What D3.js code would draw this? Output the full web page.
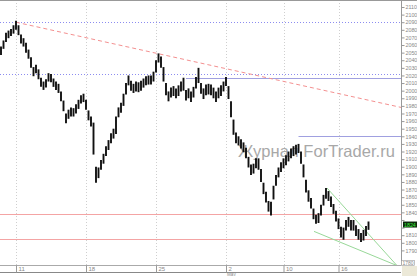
<!DOCTYPE html>
<html>
<head>
<meta charset="utf-8">
<script src="https://d3js.org/d3.v7.min.js"></script>
<style>
  body { margin: 0; background: #fff; }
  svg { display: block; font-family: "Liberation Sans", Arial, sans-serif; }
</style>
</head>
<body>
<svg id="chart" width="417" height="276"></svg>
<script>
// price bars, one [high, low] pair per bar
var highs = [2058,2066,2076,2079,2081,2086,2092,2086,2074,2069,2063,2054,2044,2031,2034,2028,2017,2012,2015,2023,
  2022,2016,2012,2009,1999,1987,1970,1975,1978,1977,1982,1988,1994,1996,1988,1974,1966,1958,1900,1899,
  1909,1917,1927,1935,1944,1950,1966,1978,1984,1996,2010,2020,2013,2009,2012,2011,2013,2016,2019,2020,
  2020,2025,2040,2049,2045,2031,2010,1999,2004,2006,2003,2007,2012,2017,2001,2003,1999,2005,2018,2030,
  2010,2003,2008,2009,2008,2004,1999,2004,2007,2012,2018,2006,1986,1962,1945,1940,1936,1932,1925,1913,
  1903,1904,1911,1911,1897,1879,1867,1855,1854,1875,1889,1899,1906,1911,1915,1920,1924,1927,1929,1930,
  1920,1903,1883,1869,1859,1845,1837,1839,1850,1863,1872,1868,1861,1851,1842,1832,1821,1820,1830,1834,
  1830,1830,1823,1818,1813,1817,1822,1828];
var lows = [2047,2055,2064,2069,2072,2075,2080,2073,2062,2058,2050,2042,2030,2019,2023,2015,2005,2001,2004,2012,
  2011,2005,2001,1997,1986,1973,1957,1963,1966,1966,1970,1976,1983,1985,1975,1961,1953,1916,1879,1885,
  1896,1904,1914,1922,1931,1937,1943,1965,1971,1980,1995,2007,2000,1997,1999,1998,2000,2004,2007,2008,
  2008,2012,2024,2037,2030,2012,1994,1986,1991,1993,1990,1993,1999,2000,1987,1990,1985,1991,2003,2010,
  1996,1989,1994,1995,1994,1990,1985,1990,1993,1999,2006,1989,1965,1942,1931,1928,1924,1919,1911,1899,
  1889,1891,1898,1896,1880,1864,1853,1841,1836,1857,1875,1886,1893,1898,1902,1907,1911,1914,1916,1918,
  1904,1886,1866,1854,1845,1831,1825,1826,1836,1849,1858,1855,1847,1838,1828,1818,1807,1804,1816,1821,
  1816,1816,1809,1804,1801,1803,1809,1817];

// date ticks (bar index where each day starts)
var tickIdx = [6, 34, 62, 90, 113, 135];
var tickLabels = ['11', '18', '25', '2', '10', '16'];
var monthIdx = 90;
var monthLabel = 'May';

// price levels
var priceTicks = d3.range(1790, 2111, 10);
var dottedLevels = [2090, 2022];
var blueLevels = [[74, 2017], [119, 1940]];   // [start bar, price]
var redLevels = [1838, 1805];
var trendLine = [[6, 2090], [160, 1978]];
var wedgeTop = [[130.4, 1872], [158.4, 1770]];
var wedgeBottom = [[125.2, 1815], [158.4, 1770]];
var lastPrice = 1824;
var bottomLabel = 1780;

var W = 417, H = 276;
var plotRight = 401, plotBottom = 265;

var svg = d3.select('#chart');

var x = d3.scaleLinear().domain([0, 160]).range([1, plotRight]);
var y = d3.scaleLinear().domain([1780, 2110]).range([258, 7]);

var plot = svg.append('g');

// vertical dotted grid
plot.selectAll('.vgrid').data(tickIdx).enter().append('line')
  .attr('x1', function(d){ return Math.round(x(d)) + 0.5; })
  .attr('x2', function(d){ return Math.round(x(d)) + 0.5; })
  .attr('y1', 0).attr('y2', plotBottom)
  .attr('stroke', '#cfcfcf').attr('stroke-dasharray', '1,2');

// horizontal dotted blue levels
plot.selectAll('.dot').data(dottedLevels).enter().append('line')
  .attr('x1', 0).attr('x2', plotRight)
  .attr('y1', function(d){ return Math.round(y(d)) + 0.5; })
  .attr('y2', function(d){ return Math.round(y(d)) + 0.5; })
  .attr('stroke', '#8c8cf0').attr('stroke-dasharray', '1,2');

// solid blue levels, start from a bar
plot.selectAll('.blue').data(blueLevels).enter().append('line')
  .attr('x1', function(d){ return x(d[0]); }).attr('x2', plotRight)
  .attr('y1', function(d){ return Math.round(y(d[1])) + 0.5; })
  .attr('y2', function(d){ return Math.round(y(d[1])) + 0.5; })
  .attr('stroke', '#a0a0e0');

// red support levels
plot.selectAll('.red').data(redLevels).enter().append('line')
  .attr('x1', 0).attr('x2', plotRight)
  .attr('y1', function(d){ return Math.round(y(d)) + 0.5; })
  .attr('y2', function(d){ return Math.round(y(d)) + 0.5; })
  .attr('stroke', '#f4a4a4');

// red dashed trend
plot.append('line')
  .attr('x1', x(trendLine[0][0])).attr('y1', y(trendLine[0][1]))
  .attr('x2', x(trendLine[1][0])).attr('y2', y(trendLine[1][1]))
  .attr('stroke', '#f49090').attr('stroke-dasharray', '4,3');

// green wedge
[wedgeTop, wedgeBottom].forEach(function(w){
  plot.append('line')
    .attr('x1', x(w[0][0])).attr('y1', y(w[0][1]))
    .attr('x2', x(w[1][0])).attr('y2', y(w[1][1]))
    .attr('stroke', '#98d898');
});

// watermark
plot.append('text')
  .attr('x', 238).attr('y', 157)
  .attr('font-size', 16.5)
  .attr('fill', '#a8a8a8')
  .attr('textLength', 157)
  .text('Журнал ForTrader.ru');

// the bars
plot.selectAll('.bar').data(highs).enter().append('line')
  .attr('x1', function(d, i){ return x(i); })
  .attr('x2', function(d, i){ return x(i); })
  .attr('y1', function(d){ return y(d); })
  .attr('y2', function(d, i){ return y(lows[i]); })
  .attr('stroke', '#111').attr('stroke-width', 1.9);

// frame lines
svg.append('line').attr('x1', 0).attr('x2', W).attr('y1', 0.5).attr('y2', 0.5).attr('stroke', '#999');
svg.append('line').attr('x1', 0).attr('x2', plotRight).attr('y1', plotBottom + 0.5).attr('y2', plotBottom + 0.5).attr('stroke', '#aaa');
svg.append('line').attr('x1', 0).attr('x2', plotRight).attr('y1', 272.5).attr('y2', 272.5).attr('stroke', '#888');

// right price axis, skip labels that sit under the last price box
var yAxis = d3.axisRight(y).tickValues(priceTicks).tickSize(3).tickPadding(1)
  .tickFormat(function(d){ return Math.abs(y(d) - y(lastPrice)) < 5 ? '' : d; });
var ya = svg.append('g').attr('transform', 'translate(' + (plotRight + 0.5) + ',0)').call(yAxis);
ya.select('.domain').attr('stroke', '#999').attr('d', 'M0,0V' + plotBottom);
ya.selectAll('.tick line').attr('stroke', '#999');
ya.selectAll('.tick text').attr('font-size', 5.3).attr('fill', '#888').attr('font-family', '"Liberation Sans", Arial, sans-serif');

// last price box
var lp = svg.append('g').attr('transform', 'translate(403,' + y(lastPrice) + ')');
lp.append('rect').attr('x', 0).attr('y', -3).attr('width', 14).attr('height', 6).attr('fill', '#0c2a0c');
lp.append('text').attr('x', 1).attr('y', 2).attr('font-size', 5.3).attr('fill', '#3ef03e').text(lastPrice);

// small boxed label at the bottom of the scale
svg.append('rect').attr('x', 401.5).attr('y', 260.5).attr('width', 13).attr('height', 5).attr('fill', '#fff').attr('stroke', '#999').attr('stroke-width', 0.6);
svg.append('text').attr('x', 402.5).attr('y', 264.7).attr('font-size', 5).attr('fill', '#888').text(bottomLabel);

// corner
svg.append('rect').attr('x', plotRight + 1).attr('y', plotBottom + 1).attr('width', W - plotRight).attr('height', H - plotBottom).attr('fill', '#ece9d8');

// bottom date axis
var xAxis = d3.axisBottom(x).tickValues(tickIdx).tickSize(7).tickFormat(function(d, i){ return tickLabels[i]; });
var xa = svg.append('g').attr('transform', 'translate(0,' + (plotBottom + 0.5) + ')').call(xAxis);
xa.select('.domain').remove();
xa.selectAll('.tick line').attr('stroke', '#999');
xa.selectAll('.tick text')
  .attr('font-size', 6).attr('fill', '#888').attr('text-anchor', 'start')
  .attr('x', 2).attr('y', 1.5).attr('dy', '0.71em')
  .attr('font-family', '"Liberation Sans", Arial, sans-serif');

// month name under the first day of May
svg.append('text').attr('x', x(monthIdx) + 1).attr('y', 276).attr('font-size', 4.6).attr('fill', '#888').text(monthLabel);
</script>
</body>
</html>
